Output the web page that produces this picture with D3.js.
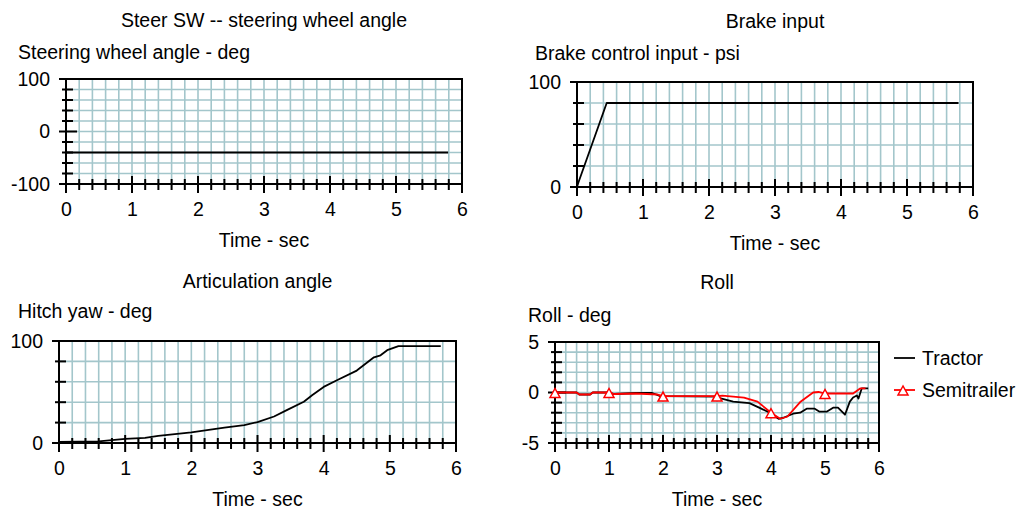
<!DOCTYPE html>
<html>
<head>
<meta charset="utf-8">
<script src="https://cdn.jsdelivr.net/npm/d3@7"></script>
<style>
  body { margin: 0; background: #fff; }
  svg text { font-family: "Liberation Sans", Arial, sans-serif; font-size: 19.5px; fill: #000; }
</style>
</head>
<body>
<svg id="chart" width="1016" height="509"></svg>
<script>
// time axis (sec)
var timeTicks = [0, 1, 2, 3, 4, 5, 6];

// Steer SW -- steering wheel angle (deg)
var steerAngle = [[0, -40], [5.79, -40]];

// Brake control input (psi)
var brakeInput = [[0, 0], [0.02, 4], [0.45, 80], [5.78, 80]];

// Hitch yaw (deg)
var hitchYaw = [[0, 1], [0.6, 1.5], [1, 4], [1.3, 5], [1.5, 7], [2, 10.5], [2.5, 15], [2.8, 17.5],
    [3, 20.5], [3.25, 26], [3.45, 32.5], [3.7, 40.5], [3.83, 47], [4, 55], [4.2, 61.5], [4.5, 71],
    [4.76, 84], [4.86, 86], [4.96, 91], [5.13, 95], [5.77, 95]];

// Roll (deg)
var rollTractor = [[0, 0], [0.4, 0], [0.45, -0.2], [0.65, -0.2], [0.7, 0], [1, 0], [1.1, -0.15],
    [1.5, -0.05], [1.8, -0.05], [1.95, -0.35], [3, -0.4], [3.05, -0.55], [3.3, -0.9], [3.6, -1.05],
    [3.8, -1.55], [3.98, -2.0], [4.14, -2.6], [4.23, -2.5], [4.41, -2.1], [4.54, -2.0], [4.66, -1.6],
    [4.81, -1.6], [4.9, -1.9], [5.03, -1.9], [5.15, -1.5], [5.24, -1.5], [5.37, -2.2], [5.46, -0.9],
    [5.52, -0.5], [5.59, -0.3], [5.62, -0.6], [5.68, 0.4], [5.8, 0.4]];
var rollSemitrailer = [[0, 0], [0.4, 0], [0.45, -0.2], [0.65, -0.2], [0.7, 0], [1, 0], [1.1, -0.15],
    [1.5, -0.1], [1.9, -0.2], [2, -0.35], [3, -0.35], [3.1, -0.3], [3.5, -0.5], [3.75, -0.9],
    [4, -2.0], [4.17, -2.6], [4.3, -2.4], [4.54, -0.95], [4.78, 0], [4.88, 0.05], [5, -0.1],
    [5.52, -0.1], [5.65, 0.4], [5.75, 0.4]];

var legendLabels = ["Tractor", "Semitrailer"];
var legendColors = ["#000", "#ff0000"];

var svg = d3.select("#chart");
var gridColor = "#a3c6cb";

function panel(cfg) {
    var x = d3.scaleLinear().domain([0, 6]).range([cfg.left, cfg.right]);
    var y = d3.scaleLinear().domain(cfg.yDomain).range([cfg.bottom, cfg.top]);
    var g = svg.append("g");
    var xMinor = d3.range(0, 31).map(function(i) { return i / 5; });
    var nY = Math.round((cfg.yDomain[1] - cfg.yDomain[0]) / cfg.yStep);
    var yMinor = d3.range(0, nY + 1).map(function(i) { return cfg.yDomain[0] + i * cfg.yStep; });

    // grid
    g.selectAll(".vg").data(xMinor.slice(1, -1)).enter().append("line")
        .attr("x1", x).attr("x2", x).attr("y1", cfg.top).attr("y2", cfg.bottom)
        .attr("stroke", gridColor).attr("stroke-width", 1.6);
    g.selectAll(".hg").data(yMinor.slice(1, -1)).enter().append("line")
        .attr("y1", y).attr("y2", y).attr("x1", cfg.left).attr("x2", cfg.right)
        .attr("stroke", gridColor).attr("stroke-width", 1.6);

    // frame
    g.append("path")
        .attr("d", "M" + cfg.left + "," + cfg.bottom + "V" + cfg.top + "H" + cfg.right + "V" + cfg.bottom + "H" + cfg.left)
        .attr("fill", "none").attr("stroke", "#000").attr("stroke-width", 2);

    // x ticks
    g.selectAll(".xt").data(xMinor).enter().append("line")
        .attr("x1", x).attr("x2", x)
        .attr("y1", function(d) { return cfg.bottom - (Number.isInteger(d) ? 8 : 5); })
        .attr("y2", function(d) { return cfg.bottom + (Number.isInteger(d) ? 9 : 6); })
        .attr("stroke", "#000").attr("stroke-width", 2);
    var xAxis = d3.axisBottom(x).tickValues(timeTicks).tickSize(0).tickPadding(18).tickFormat(String);
    g.append("g").attr("transform", "translate(0," + cfg.bottom + ")").call(xAxis)
        .call(function(a) { a.select(".domain").remove(); a.selectAll("text").attr("font-size", null).attr("font-family", null); });

    // y ticks
    g.selectAll(".yt").data(yMinor).enter().append("line")
        .attr("y1", y).attr("y2", y)
        .attr("x1", function(d) { return cfg.left - (cfg.yLabels.indexOf(d) >= 0 ? 7 : 4); })
        .attr("x2", function(d) { return cfg.left + (cfg.yLabels.indexOf(d) >= 0 ? 11 : 7); })
        .attr("stroke", "#000").attr("stroke-width", 2);
    var yAxis = d3.axisLeft(y).tickValues(cfg.yLabels).tickSize(0).tickPadding(16).tickFormat(String);
    g.append("g").attr("transform", "translate(" + cfg.left + ",0)").call(yAxis)
        .call(function(a) { a.select(".domain").remove(); a.selectAll("text").attr("font-size", null).attr("font-family", null); });

    // texts
    g.append("text").attr("x", (cfg.left + cfg.right) / 2).attr("y", cfg.titleY)
        .attr("text-anchor", "middle").text(cfg.title);
    g.append("text").attr("x", cfg.yTitleX).attr("y", cfg.yTitleY).text(cfg.yTitle);
    g.append("text").attr("x", (cfg.left + cfg.right) / 2).attr("y", cfg.bottom + 63)
        .attr("text-anchor", "middle").text("Time - sec");

    var line = d3.line().x(function(d) { return x(d[0]); }).y(function(d) { return y(d[1]); });
    cfg.series.forEach(function(s) {
        g.append("path").datum(s.data).attr("d", line)
            .attr("fill", "none").attr("stroke", s.color).attr("stroke-width", 1.8)
            .attr("stroke-linejoin", "round");
        if (s.marker) {
            g.selectAll(null).data(s.data.filter(function(d) { return Number.isInteger(d[0]); }))
                .enter().append("path")
                .attr("transform", function(d) { return "translate(" + x(d[0]) + "," + y(d[1]) + ")"; })
                .attr("d", "M0,-4L-5,5H5Z")
                .attr("fill", "#fff").attr("stroke", s.color).attr("stroke-width", 1.5);
        }
    });
    return g;
}

panel({ left: 66, right: 462, top: 79, bottom: 184, yDomain: [-100, 100], yStep: 20, yLabels: [-100, 0, 100],
    title: "Steer SW -- steering wheel angle", titleY: 27, yTitle: "Steering wheel angle - deg", yTitleX: 18, yTitleY: 59,
    series: [{ data: steerAngle, color: "#000" }] });

panel({ left: 577, right: 973, top: 82, bottom: 187, yDomain: [0, 100], yStep: 20, yLabels: [0, 100],
    title: "Brake input", titleY: 28, yTitle: "Brake control input - psi", yTitleX: 535, yTitleY: 60,
    series: [{ data: brakeInput, color: "#000" }] });

panel({ left: 59, right: 456, top: 341, bottom: 443, yDomain: [0, 100], yStep: 20, yLabels: [0, 100],
    title: "Articulation angle", titleY: 288, yTitle: "Hitch yaw - deg", yTitleX: 18, yTitleY: 318,
    series: [{ data: hitchYaw, color: "#000" }] });

panel({ left: 555, right: 879, top: 342, bottom: 443, yDomain: [-5, 5], yStep: 1, yLabels: [-5, 0, 5],
    title: "Roll", titleY: 289, yTitle: "Roll - deg", yTitleX: 528, yTitleY: 322,
    series: [{ data: rollTractor, color: "#000" }, { data: rollSemitrailer, color: "#ff0000", marker: true }] });

// legend
var legend = svg.append("g").selectAll("g").data(legendLabels).enter().append("g")
    .attr("transform", function(d, i) { return "translate(894," + (358 + i * 32) + ")"; });
legend.append("line").attr("x1", 0).attr("x2", 21).attr("y1", 0).attr("y2", 0)
    .attr("stroke", function(d, i) { return legendColors[i]; }).attr("stroke-width", 1.8);
legend.filter(function(d, i) { return i === 1; }).append("path")
    .attr("transform", "translate(9,0)").attr("d", "M0,-4L-5,5H5Z")
    .attr("fill", "#fff").attr("stroke", legendColors[1]).attr("stroke-width", 1.5);
legend.append("text").attr("x", 28).attr("dy", "0.35em").text(function(d) { return d; });
</script>
</body>
</html>
